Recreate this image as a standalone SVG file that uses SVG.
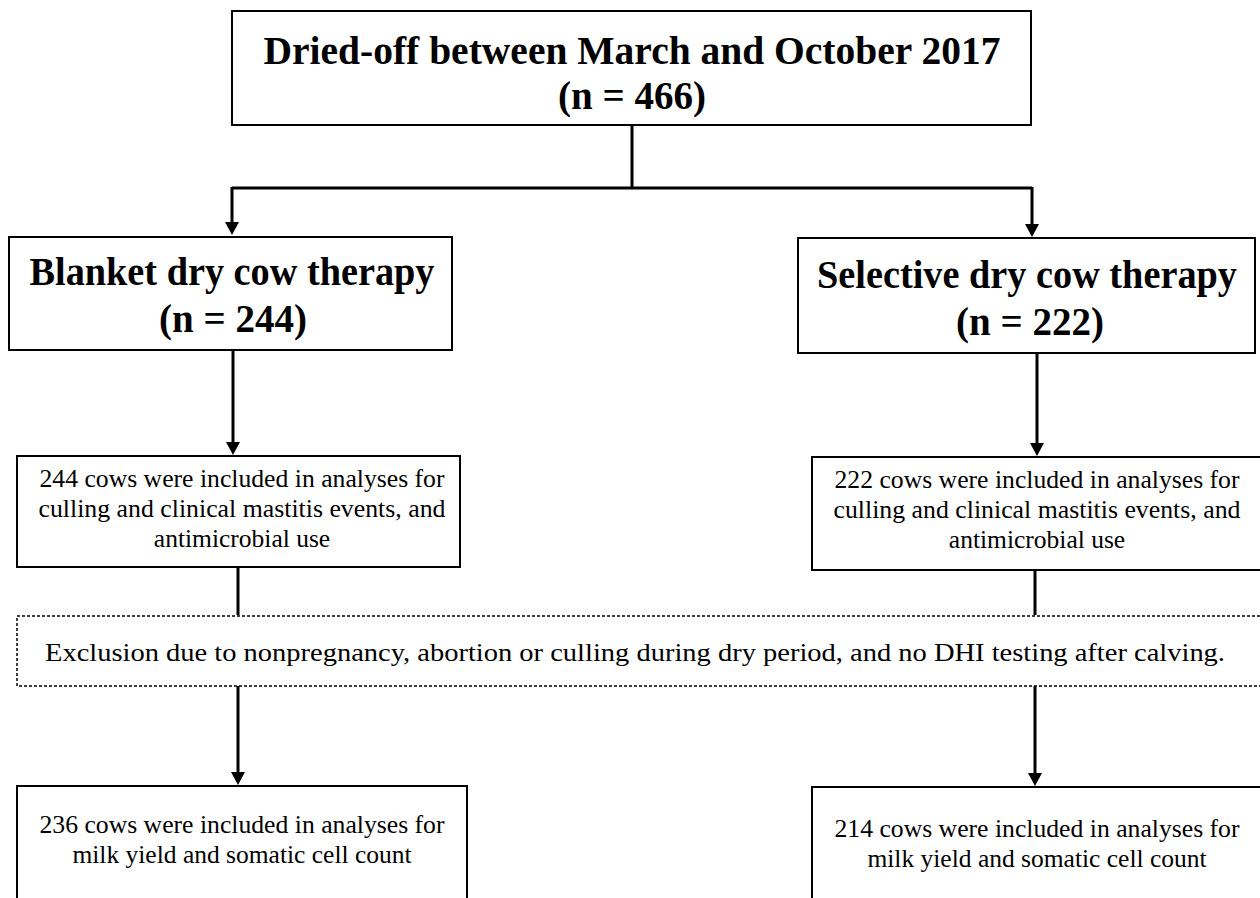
<svg xmlns="http://www.w3.org/2000/svg" width="1260" height="898" viewBox="0 0 1260 898">
<style>
.box{fill:#fff;stroke:#000;stroke-width:2}
.dash{fill:#fff;stroke:#000;stroke-width:1.5;stroke-dasharray:3 2}
.conn{fill:none;stroke:#000;stroke-width:3}
.big{font-family:"Liberation Serif","Times New Roman",serif;font-weight:bold;font-size:39px;fill:#000;text-anchor:middle}
.sm{font-family:"Liberation Serif","Times New Roman",serif;font-size:25.5px;fill:#000;text-anchor:middle}
</style>
<rect width="1260" height="898" fill="#fff"/>
<g id="connectors">
<path class="conn" d="M632,125 V188"/>
<path class="conn" d="M232,188 H1032"/>
<path class="conn" d="M232,187 V222"/>
<path d="M225,222 H239 L232,235 Z"/>
<path class="conn" d="M1032,187 V224"/>
<path d="M1025,224 H1039 L1032,237 Z"/>
<path class="conn" d="M233,350 V442"/>
<path d="M226,442 H240 L233,455 Z"/>
<path class="conn" d="M1037,353 V443"/>
<path d="M1030,443 H1044 L1037,456 Z"/>
<path class="conn" d="M238,567 V615"/>
<path class="conn" d="M1035,570 V615"/>
<path class="conn" d="M238,686 V772"/>
<path d="M231,772 H245 L238,785 Z"/>
<path class="conn" d="M1035,686 V773"/>
<path d="M1028,773 H1042 L1035,786 Z"/>
</g>
<g id="node-top">
<rect class="box" x="232" y="11" width="799" height="114"/>
<text class="big" x="632" y="64" textLength="737" lengthAdjust="spacingAndGlyphs">Dried-off between March and October 2017</text>
<text class="big" x="632" y="109">(n = 466)</text>
</g>
<g id="node-blanket">
<rect class="box" x="9" y="237" width="443" height="113"/>
<text class="big" x="232" y="285" textLength="405" lengthAdjust="spacingAndGlyphs">Blanket dry cow therapy</text>
<text class="big" x="233" y="332">(n = 244)</text>
</g>
<g id="node-selective">
<rect class="box" x="798" y="238" width="457" height="115"/>
<text class="big" x="1027" y="288" textLength="420" lengthAdjust="spacingAndGlyphs">Selective dry cow therapy</text>
<text class="big" x="1030" y="335">(n = 222)</text>
</g>
<g id="node-b244">
<rect class="box" x="17" y="456" width="443" height="111"/>
<text class="sm" x="242" y="487" textLength="405" lengthAdjust="spacingAndGlyphs">244 cows were included in analyses for</text>
<text class="sm" x="242" y="517" textLength="407" lengthAdjust="spacingAndGlyphs">culling and clinical mastitis events, and</text>
<text class="sm" x="242" y="547">antimicrobial use</text>
</g>
<g id="node-s222">
<rect class="box" x="812" y="457" width="452" height="113"/>
<text class="sm" x="1037" y="488" textLength="405" lengthAdjust="spacingAndGlyphs">222 cows were included in analyses for</text>
<text class="sm" x="1037" y="518" textLength="407" lengthAdjust="spacingAndGlyphs">culling and clinical mastitis events, and</text>
<text class="sm" x="1037" y="548">antimicrobial use</text>
</g>
<g id="node-exclusion">
<rect class="dash" x="17" y="616" width="1250" height="70"/>
<text class="sm" x="635" y="661" textLength="1180" lengthAdjust="spacingAndGlyphs">Exclusion due to nonpregnancy, abortion or culling during dry period, and no DHI testing after calving.</text>
</g>
<g id="node-b236">
<rect class="box" x="17" y="786" width="450" height="130"/>
<text class="sm" x="242" y="833" textLength="405" lengthAdjust="spacingAndGlyphs">236 cows were included in analyses for</text>
<text class="sm" x="242" y="863">milk yield and somatic cell count</text>
</g>
<g id="node-s214">
<rect class="box" x="812" y="787" width="452" height="130"/>
<text class="sm" x="1037" y="837" textLength="405" lengthAdjust="spacingAndGlyphs">214 cows were included in analyses for</text>
<text class="sm" x="1037" y="867">milk yield and somatic cell count</text>
</g>
</svg>
